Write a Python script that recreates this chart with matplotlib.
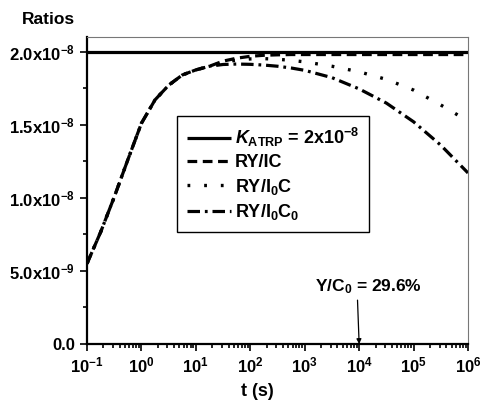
import numpy as np
import matplotlib
matplotlib.use("Agg")
import matplotlib.pyplot as plt
from matplotlib.ticker import FixedLocator, FixedFormatter, LogLocator, NullFormatter

plt.rcParams['font.family'] = ['Liberation Sans', 'DejaVu Sans']
plt.rcParams['font.weight'] = 'bold'
plt.rcParams['mathtext.fontset'] = 'custom'
plt.rcParams['mathtext.rm'] = 'Liberation Sans:bold'
plt.rcParams['mathtext.bf'] = 'Liberation Sans:bold'
plt.rcParams['mathtext.it'] = 'Liberation Sans:bold:italic'
plt.rcParams['mathtext.default'] = 'rm'
plt.rcParams['lines.scale_dashes'] = False

# data (time as powers of ten)
k_atrp = 2.0e-8
log_t = [-1, -0.75, -0.5, -0.25, 0, 0.25, 0.5, 0.75, 1.0, 1.25, 1.5, 1.75, 2.0,
         2.25, 2.5, 2.75, 3.0, 3.5, 4.0, 4.5, 5.0, 5.5, 6.0]
ry_ic = [5.5e-9, 7.65e-9, 1.005e-8, 1.26e-8, 1.51e-8, 1.67e-8, 1.77e-8, 1.84e-8,
         1.875e-8, 1.90e-8, 1.935e-8, 1.955e-8, 1.968e-8, 1.975e-8, 1.978e-8,
         1.98e-8, 1.98e-8, 1.98e-8, 1.98e-8, 1.98e-8, 1.98e-8, 1.98e-8, 1.98e-8]
ry_i0c = [5.5e-9, 7.65e-9, 1.005e-8, 1.26e-8, 1.51e-8, 1.67e-8, 1.77e-8, 1.84e-8,
          1.875e-8, 1.90e-8, 1.928e-8, 1.942e-8, 1.95e-8, 1.952e-8, 1.948e-8,
          1.94e-8, 1.93e-8, 1.90e-8, 1.862e-8, 1.81e-8, 1.737e-8, 1.635e-8, 1.525e-8]
ry_i0c0 = [5.5e-9, 7.65e-9, 1.005e-8, 1.26e-8, 1.51e-8, 1.67e-8, 1.77e-8, 1.84e-8,
           1.875e-8, 1.90e-8, 1.912e-8, 1.915e-8, 1.913e-8, 1.908e-8, 1.90e-8,
           1.888e-8, 1.872e-8, 1.822e-8, 1.745e-8, 1.648e-8, 1.52e-8, 1.36e-8, 1.17e-8]
y_ticks = [0, 5e-9, 1e-8, 1.5e-8, 2e-8]
y_ticklabels = ['0.0', r'5.0x10$^{-9}$', r'1.0x10$^{-8}$', r'1.5x10$^{-8}$', r'2.0x10$^{-8}$']

t_s = 10.0 ** np.array(log_t)

fig = plt.figure(figsize=(4.81, 4.04), dpi=100)
ax = fig.add_axes([87/481, 60/404, 381/481, 307/404])

ax.plot([0.1, 1e6], [k_atrp, k_atrp], color='black', lw=2.3, solid_capstyle='butt',
        label=r'$\mathit{K}_{\mathregular{ATRP}}$ = 2x10$^{-8}$')
ax.plot(t_s, ry_ic, color='black', lw=2.3, dashes=[7, 4], label='RY/IC')
ax.plot(t_s, ry_i0c, color='black', lw=2.4, dashes=[2, 10], label=r'RY/I$_0$C')
ax.plot(t_s, ry_i0c0, color='black', lw=2.3, dashes=[9, 3.5, 2, 3.5], label=r'RY/I$_0$C$_0$')

ax.set_xscale('log')
ax.set_xlim(0.1, 1e6)
ax.set_ylim(0, 2.1e-8)
ax.xaxis.set_major_locator(LogLocator(base=10, numticks=10))
ax.xaxis.set_minor_locator(LogLocator(base=10, subs=np.arange(2, 10), numticks=20))
ax.xaxis.set_minor_formatter(NullFormatter())
ax.yaxis.set_major_locator(FixedLocator(y_ticks))
ax.yaxis.set_major_formatter(FixedFormatter(y_ticklabels))
ax.yaxis.set_minor_locator(FixedLocator([2.5e-9, 7.5e-9, 1.25e-8, 1.75e-8]))

ax.tick_params(which='both', direction='out', top=False, right=False,
               labelsize=12, width=1.2)
ax.tick_params(which='major', length=5)
ax.tick_params(which='minor', length=3)
for s in ['left', 'bottom']:
    ax.spines[s].set_linewidth(1.6)
for s in ['top', 'right']:
    ax.spines[s].set_linewidth(0.8)
    ax.spines[s].set_color('#777777')

leg = ax.legend(loc='upper left', bbox_to_anchor=(0.236, 0.743), borderaxespad=0,
                fontsize=13, handlelength=2.45, handletextpad=0.2, labelspacing=0.3,
                fancybox=False, framealpha=1, borderpad=0.55)
leg.get_frame().set_edgecolor('black')
leg.get_frame().set_linewidth(1.0)

ax.text(10**4.165, 3.9e-9, r'Y/C$_0$ = 29.6%', ha='center', va='center', fontsize=12.5)
ax.annotate('', xy=(1e4, 0), xytext=(10**3.97, 3.0e-9),
            arrowprops=dict(arrowstyle='-|>', color='black', lw=0.9,
                            mutation_scale=7, shrinkA=0, shrinkB=0))

fig.text(22/481, 1 - 20/404, 'Ratios', fontsize=12.5, va='center', ha='left')
fig.text(257/481, 1 - 391/404, 't (s)', fontsize=13, va='center', ha='center')

fig.savefig('out.png', dpi=100)
